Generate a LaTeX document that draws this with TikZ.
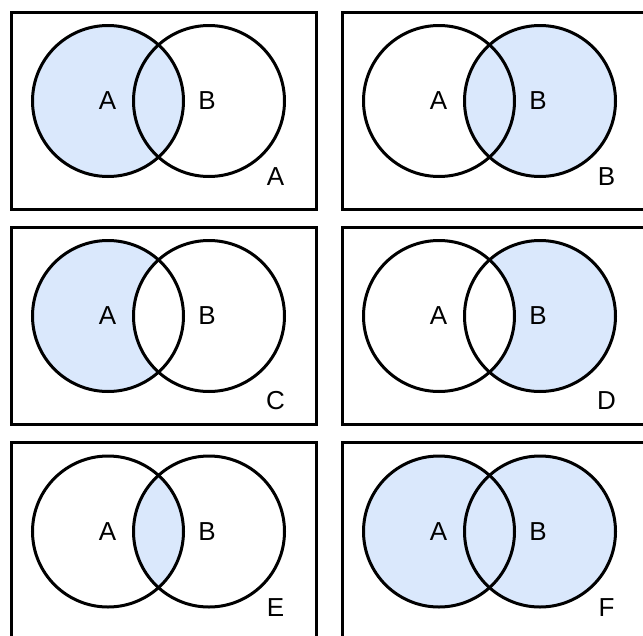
\documentclass[tikz,border=0pt]{standalone}
\usepackage{fontspec}
\setmainfont{Liberation Sans}
\definecolor{setblue}{HTML}{DAE8FC}
\tikzset{
  setcircle/.style={circle,draw,line width=3pt,minimum size=151pt,inner sep=0pt},
  panelbox/.style={draw,line width=3pt},
  setlabel/.style={font=\fontsize{26}{30}\selectfont,inner sep=0pt},
}

\begin{document}
\begin{tikzpicture}[x=1pt,y=-1pt]
  \useasboundingbox (0,0) rectangle (643,635);
  \clip (0,0) rectangle (643,635);
  % one panel per case: x, y, corner letter, label height, shading
  \foreach \px/\py/\tag/\ly/\mode in {9.5/10.5/A/166/1, 340.5/10.5/B/166.5/2,
      9.5/225.5/C/175/3, 340.5/225.5/D/175/4, 9.5/441/E/167/5, 340.5/441/F/167/6}{
    \begin{scope}[shift={(\px,\py)}]
      \ifcase\mode\or
        \fill[setblue] (98.5,90.5) circle (75.5);
      \or
        \fill[setblue] (199.5,90.5) circle (75.5);
      \or
        \fill[setblue] (98.5,90.5) circle (75.5);
        \fill[white] (199.5,90.5) circle (75.5);
      \or
        \fill[setblue] (199.5,90.5) circle (75.5);
        \fill[white] (98.5,90.5) circle (75.5);
      \or
        \begin{scope}
          \clip (98.5,90.5) circle (75.5);
          \fill[setblue] (199.5,90.5) circle (75.5);
        \end{scope}
      \or
        \fill[setblue] (98.5,90.5) circle (75.5);
        \fill[setblue] (199.5,90.5) circle (75.5);
      \fi
      \node[panelbox,minimum width=305pt,minimum height=197pt,anchor=north west,inner sep=0pt] (box\tag) at (0,0) {};
      \node[setcircle] (ca\tag) at (98.5,90.5) {};
      \node[setcircle] (cb\tag) at (199.5,90.5) {};
      \node[setlabel] (la\tag) at (98,90.5) {A};
      \node[setlabel] (lb\tag) at (197.5,90.5) {B};
      \node[setlabel] (tag\tag) at (266,\ly) {\tag};
    \end{scope}
  }
\end{tikzpicture}
\end{document}
